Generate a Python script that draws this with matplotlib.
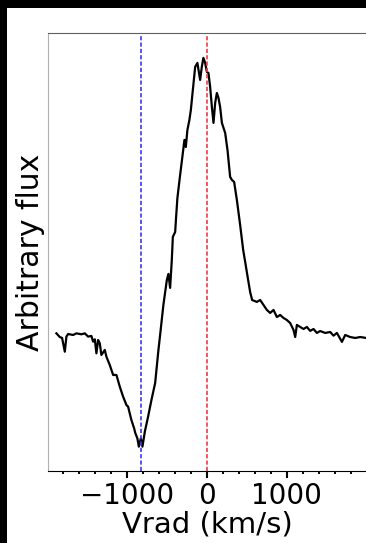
import matplotlib
matplotlib.use("Agg")
from matplotlib import pyplot as plt
from matplotlib.patches import Rectangle
from matplotlib.ticker import MultipleLocator

# Line profile: radial velocity (km/s) and flux normalised to the continuum
vrad = [-1880, -1838, -1809, -1775, -1755, -1734, -1671, -1630, -1568, -1525,
        -1484, -1443, -1421, -1400, -1380, -1359, -1338, -1318, -1275, -1255,
        -1213, -1171, -1130, -1088, -1046, -1005, -984, -943, -909, -893,
        -868, -850, -825, -805, -775, -734, -693, -646, -605, -584,
        -543, -500, -480, -459, -438, -425, -396, -384, -368, -334,
        -300, -280, -263, -243, -218, -200, -175, -146, -118, -84,
        -63, -43, -21, 0, 20, 41, 63, 83, 104, 125,
        145, 166, 188, 229, 258, 291, 313, 341, 375, 416,
        454, 479, 516, 541, 566, 625, 666, 750, 791, 833,
        875, 916, 958, 1000, 1041, 1083, 1104, 1125, 1166, 1208,
        1250, 1291, 1333, 1375, 1416, 1479, 1541, 1583, 1625, 1688,
        1729, 1791, 1854, 1916, 1991]
flux = [1.012, 0.985, 0.978, 0.877, 0.988, 1.007, 1.000, 1.012, 1.005, 1.012,
        0.988, 0.993, 0.951, 0.968, 0.865, 0.963, 0.939, 0.853, 0.890, 0.840,
        0.779, 0.706, 0.706, 0.620, 0.546, 0.485, 0.473, 0.375, 0.314, 0.277,
        0.240, 0.179, 0.240, 0.179, 0.289, 0.400, 0.520, 0.647, 0.890, 1.000,
        1.221, 1.404, 1.449, 1.346, 1.551, 1.721, 1.757, 1.868, 2.007, 2.176,
        2.338, 2.434, 2.382, 2.507, 2.581, 2.654, 2.801, 2.971, 3.000, 2.875,
        2.971, 3.037, 3.000, 2.934, 2.926, 2.824, 2.676, 2.559, 2.706, 2.779,
        2.743, 2.676, 2.559, 2.485, 2.360, 2.162, 2.140, 2.125, 1.993, 1.809,
        1.625, 1.537, 1.404, 1.316, 1.257, 1.243, 1.257, 1.184, 1.162, 1.184,
        1.132, 1.147, 1.125, 1.110, 1.088, 1.037, 0.985, 1.074, 1.059, 1.044,
        1.059, 1.030, 1.044, 1.015, 1.029, 1.015, 1.022, 0.995, 1.015, 0.949,
        1.000, 0.985, 0.978, 0.985, 0.978]

v_blue = -820   # absorption minimum
v_rest = 0

fig = plt.figure(figsize=(3.66, 5.43), dpi=100)
fig.patch.set_facecolor("black")
fig.patches.append(Rectangle((7 / 366, 0), 1, 1 - 8 / 543, transform=fig.transFigure,
                             facecolor="white", edgecolor="none", zorder=-1))

ax = fig.add_axes([48 / 366, 72 / 543, 318.5 / 366, 438 / 543])
ax.plot(vrad, flux, color="black", lw=1.6)
ax.axvline(v_blue, color="#3a3af0", lw=1.2, dashes=(2.5, 1.3))
ax.axvline(v_rest, color="#f03a46", lw=1.2, dashes=(2.5, 1.3))

ax.set_xlim(-1985, 1995)
ax.set_ylim(0, 3.22)
ax.xaxis.set_major_locator(MultipleLocator(1000))
ax.xaxis.set_minor_locator(MultipleLocator(200))
ax.set_yticks([])
ax.tick_params(axis="x", which="major", length=5, width=1.5, labelsize=20, pad=3)
ax.tick_params(axis="x", which="minor", length=2.2, width=1.4)

ax.spines["left"].set_color("#b0b0b0")
ax.spines["top"].set_color("#606060")
ax.spines["bottom"].set_color("black")
ax.spines["right"].set_visible(False)

ax.set_xlabel("Vrad (km/s)", fontsize=21, labelpad=0)
ax.set_ylabel("Arbitrary flux", fontsize=21.5, labelpad=2)

fig.savefig("out.png", dpi=100, facecolor=fig.get_facecolor())
